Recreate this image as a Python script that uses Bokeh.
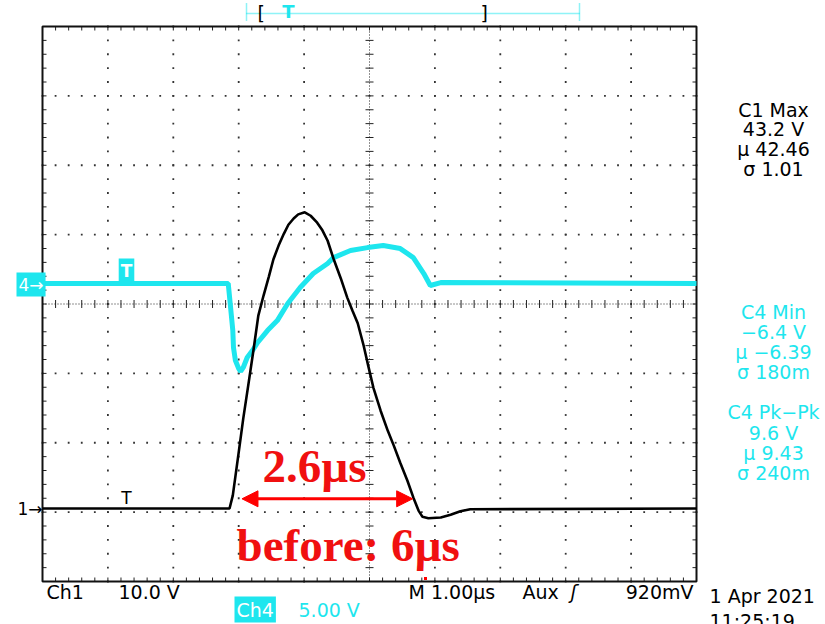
import numpy as np
from bokeh.plotting import figure
from bokeh.models import Range1d, Label, Arrow, NormalHead
from bokeh.embed import file_html
from bokeh.resources import INLINE

# ---------------- data ----------------
ch1_time_us = [0.00, 2.86, 2.91, 3.00, 3.07, 3.15, 3.23, 3.30, 3.38, 3.46, 3.53,
               3.61, 3.69, 3.76, 3.84, 3.91, 4.01, 4.10, 4.20, 4.28, 4.36, 4.45,
               4.56, 4.66, 4.74, 4.82, 4.91, 4.98, 5.06, 5.17, 5.28, 5.37, 5.47,
               5.58, 5.67, 5.75, 5.81, 5.90, 6.09, 6.24, 6.39, 6.54, 10.0]
ch1_volts = [0.0, 0.0, 1.9, 8.1, 13.0, 18.0, 23.1, 27.8, 30.7, 33.4, 35.9,
             37.9, 39.6, 40.9, 41.8, 42.4, 42.7, 42.2, 41.2, 40.1, 38.6, 36.0,
             33.2, 30.4, 28.5, 26.7, 23.5, 20.6, 17.4, 14.1, 11.2, 9.1, 6.6,
             4.0, 1.6, -0.3, -1.2, -1.4, -1.3, -0.9, -0.4, -0.1, 0.0]

ch4_time_us = [0.00, 2.84, 2.87, 2.91, 2.92, 2.95, 3.00, 3.03, 3.07, 3.13, 3.21,
               3.29, 3.44, 3.59, 3.75, 3.94, 4.14, 4.36, 4.45, 4.71, 4.97, 5.21,
               5.47, 5.67, 5.83, 5.93, 6.09, 10.0]
ch4_volts = [0.0, 0.0, -1.44, -3.39, -4.61, -5.55, -6.13, -6.34, -6.05, -5.33, -4.83,
             -4.25, -3.39, -2.67, -1.44, -0.29, 0.72, 1.44, 1.87, 2.38, 2.59, 2.74,
             2.52, 1.87, 0.72, -0.14, 0.07, 0.0]

arrow_t_us = [3.05, 5.66]      # measured width of the pulse: 2.6 us
arrow_level_v = 1.4            # on the Ch1 scale

c1_meas = ["C1 Max", "43.2 V", "µ 42.46", "σ 1.01"]
c4_min_meas = ["C4 Min", "−6.4 V", "µ −6.39", "σ 180m"]
c4_pk_meas = ["C4 Pk−Pk", "9.6 V", "µ 9.43", "σ 240m"]

# scope settings
N_HDIV, N_VDIV = 10, 8
CH1_V_PER_DIV, CH4_V_PER_DIV = 10.0, 5.0
CH1_POS_DIV, CH4_POS_DIV = -2.948, 0.295

CYAN = "#1ee6ee"
SCOPE_FONT = "DejaVu Sans"

# ---------------- layout helpers ----------------
W, H = 825, 624
FRAME_L, FRAME_T = 42.0, 26.0          # page px of the graticule's top-left
PX_PER_HDIV, PX_PER_VDIV = 65.4, 69.375


def X(px):
    return (px - FRAME_L) / PX_PER_HDIV


def Y(py):
    return (FRAME_T + N_VDIV / 2 * PX_PER_VDIV - py) / PX_PER_VDIV


def ch_range(vdiv, pos):
    return Range1d((Y(H) - pos) * vdiv, (Y(0) - pos) * vdiv)


p = figure(width=W, height=H, output_backend="svg", toolbar_location=None,
           x_range=Range1d(X(0), X(W)), y_range=ch_range(CH1_V_PER_DIV, CH1_POS_DIV),
           x_axis_location=None, y_axis_location=None, min_border=0)
p.extra_y_ranges = {"ch4": ch_range(CH4_V_PER_DIV, CH4_POS_DIV),
                    "div": Range1d(Y(H), Y(0))}
p.xgrid.visible = False
p.ygrid.visible = False
p.outline_line_color = None
p.background_fill_color = "white"
p.border_fill_color = "white"

# ---------------- graticule ----------------
HALF_V = N_VDIV / 2
xs_fine = np.linspace(0, N_HDIV, N_HDIV * 5 + 1)
ys_fine = np.linspace(-HALF_V, HALF_V, N_VDIV * 5 + 1)
dot_x, dot_y = [], []
for xv in range(1, N_HDIV):
    if xv == N_HDIV // 2:
        continue
    dot_x += [xv] * len(ys_fine)
    dot_y += list(ys_fine)
for yv in range(-N_VDIV // 2 + 1, N_VDIV // 2):
    if yv == 0:
        continue
    dot_x += list(xs_fine)
    dot_y += [yv] * len(xs_fine)
p.rect(dot_x, dot_y, width=1.8, height=1.8, width_units="screen",
       height_units="screen", fill_color="#333333", line_color=None,
       y_range_name="div")

# centre cross (dense dots)
p.segment([N_HDIV / 2, 0], [-HALF_V, 0], [N_HDIV / 2, N_HDIV], [HALF_V, 0],
          line_color="#222222", line_width=1, line_dash="1 2", y_range_name="div")

tx, ty = 4 / PX_PER_HDIV, 4 / PX_PER_VDIV
sx0, sy0, sx1, sy1 = [], [], [], []
for xv in xs_fine:
    sx0 += [xv, xv, xv]
    sx1 += [xv, xv, xv]
    sy0 += [-ty, HALF_V, -HALF_V]
    sy1 += [ty, HALF_V - ty, -HALF_V + ty]
for yv in ys_fine:
    sy0 += [yv, yv, yv]
    sy1 += [yv, yv, yv]
    sx0 += [N_HDIV / 2 - tx, 0, N_HDIV]
    sx1 += [N_HDIV / 2 + tx, tx, N_HDIV - tx]
p.segment(sx0, sy0, sx1, sy1, line_color="#222222", line_width=1,
          y_range_name="div")

# graticule border
p.quad(left=[0], right=[N_HDIV], bottom=[-HALF_V], top=[HALF_V], fill_color=None,
       line_color="#111111", line_width=2, y_range_name="div")

# ---------------- traces ----------------
p.line(ch4_time_us, ch4_volts, line_color=CYAN, line_width=5, y_range_name="ch4")
p.line(ch1_time_us, ch1_volts, line_color="black", line_width=2.6)

# trigger position dot on the bottom edge
p.rect([X(425)], [Y(578)], width=3, height=3, width_units="screen",
       height_units="screen", fill_color="red", line_color=None, y_range_name="div")

# ---------------- annotations ----------------
head = dict(size=16, fill_color="red", line_color="red")
p.add_layout(Arrow(start=NormalHead(**head), end=NormalHead(**head),
                   x_start=arrow_t_us[0], x_end=arrow_t_us[1],
                   y_start=arrow_level_v, y_end=arrow_level_v,
                   line_color="red", line_width=3))


def lab(text, px, py, color="black", size="19px", align="left",
        baseline="alphabetic", font=SCOPE_FONT, style="normal", bg=None, pad=0):
    kw = {}
    if bg is not None:
        kw = dict(background_fill_color=bg, padding=pad)
    p.add_layout(Label(x=X(px), y=Y(py), y_range_name="div", text=text,
                       text_color=color, text_font_size=size, text_align=align,
                       text_baseline=baseline, text_font=font,
                       text_font_style=style, **kw))


# red annotations
lab("2.6µs", 262, 465, color="#f01010", size="47px", font="Liberation Serif",
    style="bold")
lab("before: 6µs", 236, 544, color="#f01010", size="47px",
    font="Liberation Serif", style="bold")

# measurement block on the right
for txt, yy in zip(c1_meas, [109, 128.5, 148, 168]):
    lab(txt, 773, yy, align="center")
for txt, yy in zip(c4_min_meas, [311, 331, 351, 371]):
    lab(txt, 773, yy, color=CYAN, align="center")
for txt, yy in zip(c4_pk_meas, [411, 432, 452, 472]):
    lab(txt, 773, yy, color=CYAN, align="center")

# bottom status line
lab("Ch1", 46, 591)
lab("10.0 V", 118, 591)
lab("M 1.00µs", 408, 591)
lab("Aux", 522, 591)
lab("ʃ", 570, 591, style="italic")
lab("920mV", 693, 591, align="right")
lab("1 Apr 2021", 709, 595)
lab("11:25:19", 709, 620)
lab("Ch4", 234, 609, color="white", bg=CYAN, pad=2)
lab("5.00 V", 298, 609, color=CYAN)

# channel ground markers
lab("4→", 16, 284, color="white", size="17px", baseline="middle", bg=CYAN, pad=2)
lab("1→", 17, 508, size="17px", baseline="middle")

# trigger markers on the traces
lab("T", 126, 270, color="white", size="17px", align="center", baseline="middle",
    style="bold", bg=CYAN, pad=2)
lab("T", 126, 497, size="17px", align="center", baseline="middle")

# top record bar
top_kw = dict(end=None, line_color=CYAN, line_width=1.5, line_dash="1 1",
              y_range_name="div")
p.add_layout(Arrow(x_start=X(246), y_start=Y(13), x_end=X(579), y_end=Y(13), **top_kw))
p.add_layout(Arrow(x_start=X(246), y_start=Y(3), x_end=X(246), y_end=Y(21), **top_kw))
p.add_layout(Arrow(x_start=X(579), y_start=Y(3), x_end=X(579), y_end=Y(21), **top_kw))
lab("[", 257, 12, size="19px", baseline="middle")
lab("]", 480, 12, size="19px", baseline="middle")
lab("T", 288, 11, color=CYAN, size="18px", align="center", baseline="middle",
    style="bold")

open("out.html", "w").write(file_html(p, INLINE))
